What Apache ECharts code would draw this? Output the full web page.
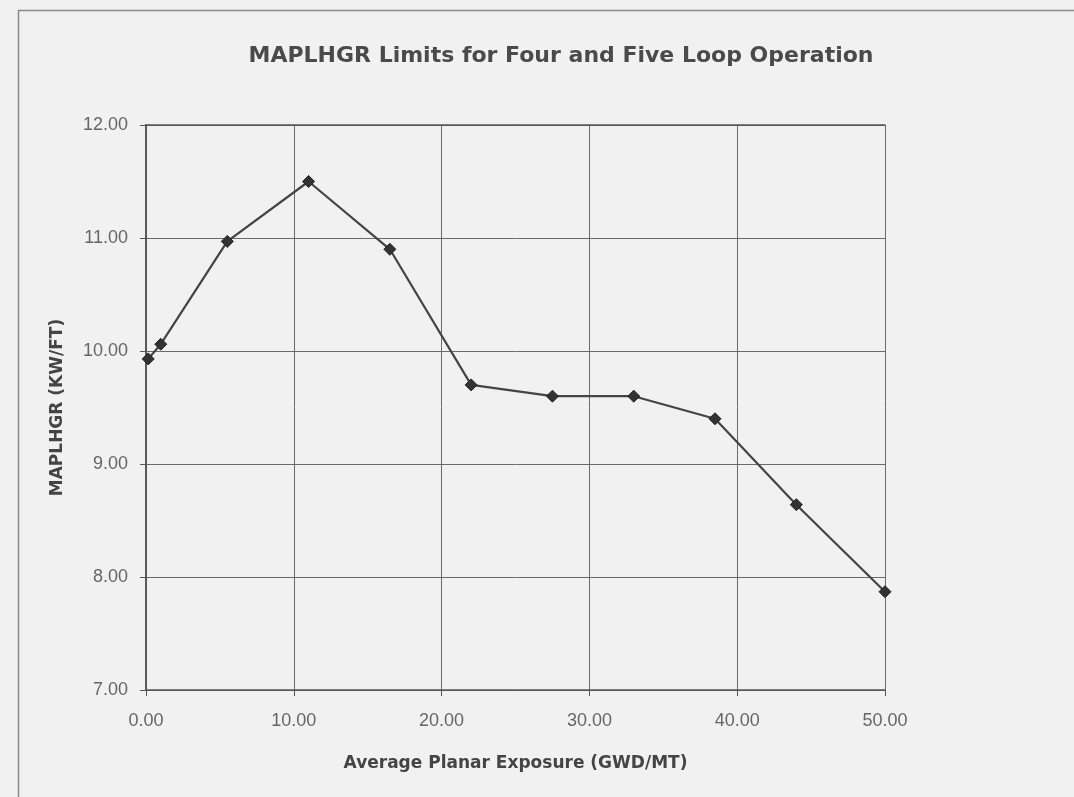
<!DOCTYPE html>
<html>
<head>
<meta charset="utf-8">
<script src="https://cdn.jsdelivr.net/npm/echarts@6/dist/echarts.min.js"></script>
<style>
html,body{margin:0;padding:0;background:#f1f1f1;}
#chart{width:1074px;height:797px;}
</style>
</head>
<body>
<div id="chart"></div>
<script>
const titleText = 'MAPLHGR Limits for Four and Five Loop Operation';
const xAxisName = 'Average Planar Exposure (GWD/MT)';
const yAxisName = 'MAPLHGR (KW/FT)';
const exposure = [0.15, 1.0, 5.5, 11.0, 16.5, 22.0, 27.5, 33.0, 38.5, 44.0, 50.0];
const maplhgr  = [9.93, 10.06, 10.97, 11.50, 10.90, 9.70, 9.60, 9.60, 9.40, 8.64, 7.87];

const chart = echarts.init(document.getElementById('chart'), null, {renderer:'canvas'});
const boldFont = '"DejaVu Sans", "Liberation Sans", sans-serif';
const font = '"Liberation Sans", Arial, sans-serif';
chart.setOption({
  backgroundColor: '#f1f1f1',
  animation: false,
  graphic: [{
    type: 'rect', left: 16, top: 8, silent: true,
    shape: {width: 1100, height: 820},
    style: {fill: 'none', stroke: '#8a8a8a', lineWidth: 1.5}
  }],
  title: {
    text: titleText, left: 556, top: 40, textAlign: 'center',
    textStyle: {fontFamily: boldFont, fontSize: 22, fontWeight: 'bold', color: '#4a4a4a'}
  },
  grid: {left: 146, right: 189, top: 125, bottom: 107},
  xAxis: [{
    type: 'value', min: 0, max: 50, interval: 10,
    name: xAxisName, nameLocation: 'middle', nameGap: 65,
    nameTextStyle: {fontFamily: boldFont, fontSize: 17, fontWeight: 'bold', color: '#444'},
    axisLine: {show: true, lineStyle: {color: '#555', width: 1.5}},
    axisTick: {show: true, length: 6, lineStyle: {color: '#555'}},
    axisLabel: {fontFamily: font, fontSize: 18, color: '#666', margin: 22,
      formatter: v => v.toFixed(2)},
    splitLine: {show: true, lineStyle: {color: '#6a6a6a', width: 1}}
  }, {
    type: 'value', position: 'top', min: 0, max: 50, interval: 10,
    axisLine: {show: true, lineStyle: {color: '#555', width: 1.5}},
    axisTick: {show: false}, axisLabel: {show: false}, splitLine: {show: false}
  }],
  yAxis: [{
    type: 'value', min: 7, max: 12, interval: 1,
    name: yAxisName, nameLocation: 'middle', nameGap: 80, nameRotate: 90,
    nameTextStyle: {fontFamily: boldFont, fontSize: 17, fontWeight: 'bold', color: '#444'},
    axisLine: {show: true, lineStyle: {color: '#555', width: 1.5}},
    axisTick: {show: true, length: 6, lineStyle: {color: '#555'}},
    axisLabel: {fontFamily: font, fontSize: 18, color: '#666', margin: 18,
      formatter: v => v.toFixed(2)},
    splitLine: {show: true, lineStyle: {color: '#6a6a6a', width: 1}}
  }, {
    type: 'value', position: 'right', min: 7, max: 12, interval: 1,
    axisLine: {show: true, lineStyle: {color: '#555', width: 1.5}},
    axisTick: {show: false}, axisLabel: {show: false}, splitLine: {show: false}
  }],
  series: [{
    type: 'line',
    data: exposure.map((x, i) => [x, maplhgr[i]]),
    symbol: 'diamond', symbolSize: 12,
    itemStyle: {color: '#333', borderColor: '#222', borderWidth: 1},
    lineStyle: {color: '#444', width: 2.2}
  }]
});
</script>
</body>
</html>
